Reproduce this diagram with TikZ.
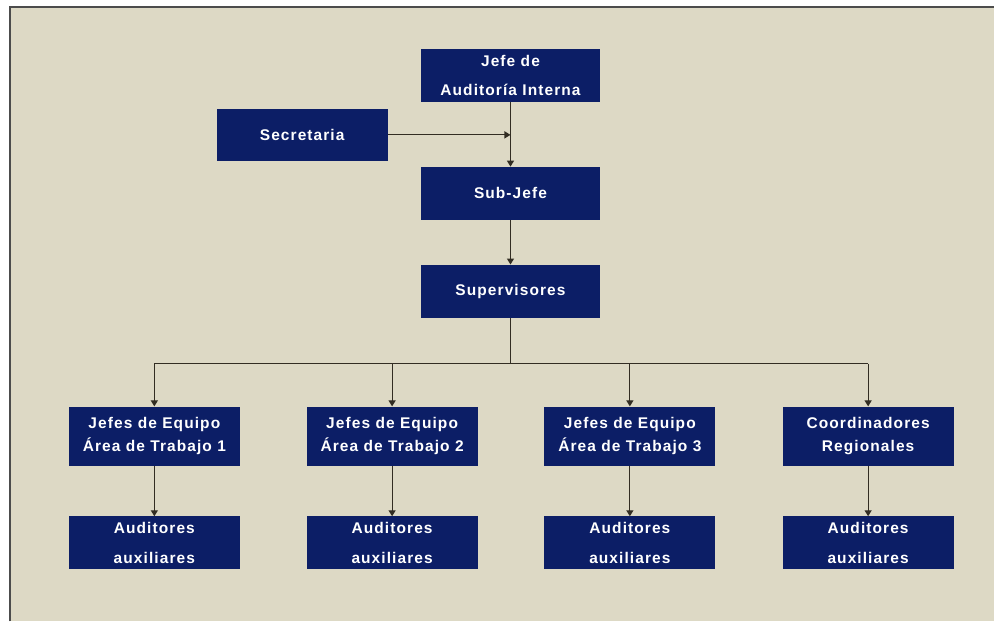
\documentclass[tikz,border=0pt]{standalone}
\usepackage{fontspec}
\newfontfamily\orgfont{Liberation Sans}[LetterSpace=7]
\usetikzlibrary{arrows.meta}
\definecolor{fondo}{RGB}{221,217,197}
\definecolor{azulcaja}{RGB}{12,30,102}
\definecolor{linea}{RGB}{50,45,35}

\begin{document}
\begin{tikzpicture}[x=1pt,y=-1pt,
    caja/.style={fill=azulcaja,text=white,inner sep=0pt,align=center,
        font=\orgfont\bfseries\fontsize{15.5}{23}\selectfont},
    conector/.style={draw=linea,line width=1.2pt},
    flecha/.style={conector,-{Triangle[length=6pt,width=7pt]}}]
            % fondo y marco
            \fill[white] (0,0) rectangle (995,622);
            \fill[fondo] (10,7) rectangle (995,622);
            \draw[line width=2pt,black!70] (10,622) -- (10,7) -- (995,7);
            % niveles superiores
            \node[caja,minimum width=179,minimum height=53] (jefe) at (511,75.5) {Jefe de\\[6pt]Auditoría Interna};
            \node[caja,minimum width=171,minimum height=52] (secre) at (302.5,135) {Secretaria};
            \node[caja,minimum width=179,minimum height=53] (subjefe) at (511,193.5) {Sub-Jefe};
            \node[caja,minimum width=179,minimum height=53] (super) at (511,291.5) {Supervisores};
            \coordinate (bus) at (511,364);
            % jefes de equipo
            \node[caja,minimum width=171,minimum height=59] (equipo1) at (154.5,436.5) {Jefes de Equipo\\Área de Trabajo 1};
            \node[caja,minimum width=171,minimum height=59] (equipo2) at (392.5,436.5) {Jefes de Equipo\\Área de Trabajo 2};
            \node[caja,minimum width=171,minimum height=59] (equipo3) at (630.5,436.5) {Jefes de Equipo\\Área de Trabajo 3};
            \node[caja,minimum width=171,minimum height=59] (coord) at (869,436.5) {Coordinadores\\Regionales};
            % auditores
            \node[caja,minimum width=171,minimum height=53] (aux1) at (154.5,543.5) {Auditores\\[7pt]auxiliares};
            \node[caja,minimum width=171,minimum height=53] (aux2) at (392.5,543.5) {Auditores\\[7pt]auxiliares};
            \node[caja,minimum width=171,minimum height=53] (aux3) at (630.5,543.5) {Auditores\\[7pt]auxiliares};
            \node[caja,minimum width=171,minimum height=53] (aux4) at (869,543.5) {Auditores\\[7pt]auxiliares};
            % conectores
            \draw[flecha] (jefe) -- (subjefe);
            \draw[flecha] (secre) -- (secre -| jefe);
            \draw[flecha] (subjefe) -- (super);
            \draw[conector] (super) -- (bus);
            \draw[conector] (bus -| equipo1) -- (bus -| coord);
            \draw[flecha] (bus -| equipo1) -- (equipo1);
            \draw[flecha] (bus -| equipo2) -- (equipo2);
            \draw[flecha] (bus -| equipo3) -- (equipo3);
            \draw[flecha] (bus -| coord) -- (coord);
            \draw[flecha] (equipo1) -- (aux1);
            \draw[flecha] (equipo2) -- (aux2);
            \draw[flecha] (equipo3) -- (aux3);
            \draw[flecha] (coord) -- (aux4);
        \end{tikzpicture}
\end{document}
